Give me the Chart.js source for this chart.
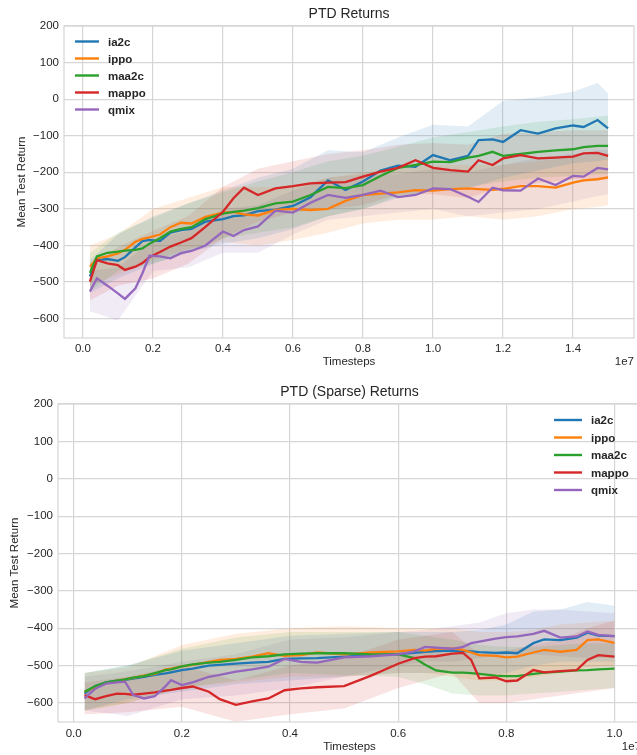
<!DOCTYPE html>
<html>
<head>
<meta charset="utf-8">
<script src="https://cdn.jsdelivr.net/npm/chart.js@4/dist/chart.umd.min.js"></script>
<style>
  html, body { margin: 0; padding: 0; background: #fff; overflow: hidden; }
  body { position: relative; width: 637px; height: 755px; }
  #c1 { position: absolute; left: 0; top: 0; }
  #c2 { position: absolute; left: 0; top: 375px; }
</style>
</head>
<body>
<canvas id="c1" width="637" height="375"></canvas>
<canvas id="c2" width="644" height="380"></canvas>
<script>
// series
const seriesNames = ['ia2c', 'ippo', 'maa2c', 'mappo', 'qmix'];
const seriesColors = ['#1f77b4', '#ff7f0e', '#2ca02c', '#d62728', '#9467bd'];
const bandColors = ['rgba(31,119,180,0.13)', 'rgba(255,127,14,0.13)', 'rgba(44,160,44,0.13)', 'rgba(214,39,40,0.13)', 'rgba(148,103,189,0.13)'];

// tick labels
const yTicks = [-600, -500, -400, -300, -200, -100, 0, 100, 200];
const topXTicks = [0, 0.2, 0.4, 0.6, 0.8, 1.0, 1.2, 1.4];
const botXTicks = [0, 0.2, 0.4, 0.6, 0.8, 1.0];

// ---- PTD Returns (timesteps in 1e7) ----
const topX = [0.02, 0.04, 0.07, 0.10, 0.12, 0.15, 0.17, 0.19, 0.22, 0.25, 0.28, 0.31, 0.35, 0.40, 0.43, 0.46, 0.50, 0.55, 0.60, 0.65, 0.70, 0.75, 0.80, 0.85, 0.90, 0.95, 1.00, 1.05, 1.10, 1.13, 1.17, 1.20, 1.25, 1.30, 1.35, 1.40, 1.43, 1.47, 1.50];
const topIa2c  = [-485, -440, -437, -442, -432, -405, -388, -385, -388, -365, -358, -355, -335, -328, -320, -318, -306, -302, -292, -268, -222, -248, -225, -195, -182, -185, -153, -167, -155, -112, -110, -117, -85, -94, -80, -72, -76, -57, -80];
const topIppo  = [-458, -435, -430, -422, -412, -390, -382, -378, -370, -350, -338, -340, -322, -310, -308, -315, -318, -303, -300, -303, -300, -278, -262, -258, -255, -249, -250, -246, -244, -246, -248, -245, -238, -238, -242, -228, -222, -219, -214];
const topMaa2c = [-475, -430, -420, -417, -414, -412, -408, -395, -380, -362, -355, -350, -328, -313, -308, -305, -298, -285, -280, -262, -240, -243, -235, -210, -188, -180, -171, -172, -160, -155, -144, -155, -150, -144, -140, -137, -131, -128, -128];
const topMappo = [-499, -440, -449, -454, -467, -458, -448, -432, -418, -403, -392, -380, -349, -308, -271, -242, -262, -244, -238, -230, -228, -227, -212, -198, -188, -167, -188, -194, -198, -167, -180, -162, -153, -162, -160, -157, -148, -147, -155];
const topQmix  = [-526, -490, -510, -531, -546, -517, -476, -428, -430, -435, -421, -415, -400, -362, -374, -358, -348, -305, -310, -283, -262, -270, -262, -250, -268, -262, -244, -246, -267, -281, -242, -249, -250, -217, -235, -210, -212, -188, -192];

const topBandX = [0.02, 0.10, 0.20, 0.30, 0.40, 0.50, 0.60, 0.70, 0.80, 0.90, 1.00, 1.10, 1.20, 1.30, 1.40, 1.47, 1.50];
const topIa2cHi  = [-440, -370, -320, -285, -250, -215, -190, -140, -145, -105, -70, -75, -5, 5, 20, 44, 15];
const topIa2cLo  = [-530, -490, -450, -420, -395, -380, -355, -320, -300, -270, -250, -245, -215, -195, -175, -170, -165];
const topIppoHi  = [-400, -370, -300, -270, -240, -240, -240, -215, -200, -190, -180, -180, -180, -170, -160, -150, -150];
const topIppoLo  = [-510, -480, -440, -410, -390, -400, -385, -365, -340, -330, -330, -320, -330, -320, -300, -295, -290];
const topMaa2cHi = [-420, -365, -325, -285, -255, -225, -200, -170, -155, -130, -105, -90, -75, -62, -55, -48, -45];
const topMaa2cLo = [-525, -470, -450, -420, -380, -365, -350, -320, -300, -265, -250, -240, -225, -215, -210, -205, -205];
const topMappoHi = [-450, -405, -360, -320, -240, -190, -170, -150, -140, -125, -120, -125, -95, -90, -85, -85, -85];
const topMappoLo = [-550, -510, -490, -450, -380, -335, -310, -300, -290, -260, -260, -270, -240, -230, -220, -220, -220];
const topQmixHi  = [-470, -460, -385, -360, -300, -290, -250, -215, -205, -205, -190, -200, -180, -160, -150, -140, -140];
const topQmixLo  = [-580, -605, -470, -460, -420, -420, -370, -330, -320, -310, -300, -320, -310, -300, -280, -265, -260];

// ---- PTD (Sparse) Returns ----
const botX = [0.02, 0.04, 0.06, 0.08, 0.095, 0.11, 0.13, 0.15, 0.17, 0.18, 0.20, 0.22, 0.25, 0.27, 0.30, 0.33, 0.36, 0.39, 0.42, 0.45, 0.50, 0.55, 0.60, 0.63, 0.65, 0.67, 0.70, 0.72, 0.735, 0.75, 0.78, 0.80, 0.82, 0.85, 0.87, 0.90, 0.93, 0.95, 0.97, 1.00];
const botIa2c  = [-575, -555, -545, -540, -538, -535, -530, -525, -521, -518, -512, -508, -500, -498, -495, -492, -490, -482, -481, -480, -476, -472, -469, -466, -463, -461, -460, -461, -462, -464, -466, -465, -467, -440, -430, -432, -425, -412, -420, -421];
const botIppo  = [-570, -558, -548, -540, -537, -533, -527, -522, -510, -508, -502, -498, -490, -485, -482, -476, -467, -474, -472, -465, -470, -465, -462, -458, -460, -455, -454, -458, -465, -472, -474, -478, -476, -465, -458, -463, -458, -432, -430, -439];
const botMaa2c = [-570, -555, -545, -540, -537, -532, -528, -520, -512, -510, -502, -497, -492, -490, -485, -478, -475, -470, -468, -467, -467, -470, -470, -480, -498, -513, -519, -519, -520, -522, -527, -528, -528, -522, -519, -516, -513, -512, -510, -508];
const botMappo = [-579, -590, -582, -575, -576, -578, -575, -572, -567, -565, -560, -556, -570, -590, -605, -596, -588, -566, -561, -558, -555, -527, -495, -480, -476, -475, -468, -466, -485, -534, -532, -542, -540, -512, -518, -515, -512, -485, -472, -476];
const botQmix  = [-588, -562, -548, -545, -543, -579, -588, -582, -555, -539, -552, -545, -530, -525, -516, -510, -503, -482, -490, -492, -478, -475, -470, -462, -450, -452, -455, -450, -440, -436, -428, -424, -422, -415, -407, -425, -422, -409, -418, -421];

const botBandX = [0.02, 0.10, 0.20, 0.30, 0.40, 0.50, 0.60, 0.65, 0.70, 0.75, 0.80, 0.85, 0.90, 0.95, 1.00];
const botIa2cHi  = [-520, -500, -460, -440, -420, -415, -410, -410, -410, -405, -390, -355, -350, -330, -340];
const botIa2cLo  = [-620, -590, -570, -550, -540, -530, -520, -520, -520, -525, -520, -500, -490, -490, -490];
const botIppoHi  = [-520, -505, -445, -415, -400, -395, -400, -400, -400, -410, -410, -405, -390, -385, -380];
const botIppoLo  = [-620, -600, -560, -545, -530, -530, -520, -520, -530, -540, -540, -530, -520, -505, -500];
const botMaa2cHi = [-520, -500, -455, -425, -410, -410, -410, -420, -430, -445, -450, -450, -445, -440, -440];
const botMaa2cLo = [-620, -600, -560, -540, -520, -525, -530, -550, -575, -580, -580, -575, -570, -565, -560];
const botMappoHi = [-545, -530, -500, -540, -500, -480, -430, -420, -410, -470, -460, -445, -430, -400, -380];
const botMappoLo = [-630, -625, -610, -650, -630, -615, -560, -540, -520, -600, -600, -590, -580, -570, -560];
const botQmixHi  = [-530, -515, -490, -470, -430, -425, -410, -405, -395, -385, -360, -350, -350, -355, -360];
const botQmixLo  = [-620, -635, -590, -580, -560, -530, -500, -490, -490, -480, -470, -470, -475, -480, -480];

const FONT = '"Liberation Sans", Arial, sans-serif';
const TEXT = '#262626';
const GRID = '#d6d6d6';

function pts(xs, ys) {
  return xs.map((x, i) => ({ x: x, y: ys[i] }));
}

function fmtY(v) {
  return v < 0 ? '\u2212' + Math.abs(v) : String(v);
}

// title, frame, 1e7 offset and legend drawn inside the plot
const extras = {
  id: 'extras',
  afterDraw(chart, args, o) {
    const ctx = chart.ctx;
    const a = chart.chartArea;
    ctx.save();
    ctx.strokeStyle = GRID;
    ctx.lineWidth = 1.2;
    ctx.strokeRect(a.left, a.top, a.right - a.left, a.bottom - a.top);

    ctx.fillStyle = TEXT;
    ctx.font = '14px ' + FONT;
    ctx.textAlign = 'center';
    ctx.textBaseline = 'middle';
    ctx.fillText(o.title, (a.left + a.right) / 2, o.titleY);

    ctx.font = '11.5px ' + FONT;
    ctx.textAlign = 'right';
    ctx.fillText('1e7', a.right, o.offsetY);

    ctx.font = 'bold 11.5px ' + FONT;
    ctx.textAlign = 'left';
    seriesNames.forEach((name, i) => {
      const y = o.legY + i * o.legDy;
      ctx.strokeStyle = seriesColors[i];
      ctx.lineWidth = 2.4;
      ctx.beginPath();
      ctx.moveTo(o.legX, y);
      ctx.lineTo(o.legX + o.legLen, y);
      ctx.stroke();
      ctx.fillStyle = TEXT;
      ctx.fillText(name, o.legX + o.legLen + 9, y + 1);
    });
    ctx.restore();
  }
};

function makeChart(id, lines, bandX, bands, xTicks, L) {
  const datasets = [];
  bands.forEach((b, i) => {
    datasets.push({ data: pts(bandX, b[0]), borderWidth: 0, pointRadius: 0, fill: false, order: 20 });
    datasets.push({ data: pts(bandX, b[1]), borderWidth: 0, pointRadius: 0, fill: '-1', backgroundColor: bandColors[i], order: 20 });
  });
  lines.forEach((ys, i) => {
    datasets.push({
      label: seriesNames[i],
      data: pts(L.x, ys),
      borderColor: seriesColors[i],
      borderWidth: 2.3,
      pointRadius: 0,
      tension: 0,
      fill: false,
      order: 5 - i
    });
  });

  return new Chart(document.getElementById(id), {
    type: 'line',
    data: { datasets },
    options: {
      responsive: false,
      animation: false,
      devicePixelRatio: 1,
      layout: { padding: { top: L.top, right: L.right, left: 0, bottom: 0 } },
      plugins: {
        legend: { display: false },
        tooltip: { enabled: false },
        extras: L.extras
      },
      scales: {
        x: {
          type: 'linear',
          min: L.xMin,
          max: L.xMax,
          afterBuildTicks: s => { s.ticks = xTicks.map(v => ({ value: v })); },
          afterFit: s => { s.height = L.xH; },
          grid: { color: GRID, lineWidth: 1.2, drawTicks: false },
          border: { display: false },
          ticks: { padding: L.xPad, color: TEXT, font: { family: FONT, size: 11.5 }, maxRotation: 0, autoSkip: false, callback: v => v.toFixed(1) },
          title: { display: true, text: 'Timesteps', color: TEXT, font: { family: FONT, size: 11.5 }, padding: { top: 0, bottom: L.xTitlePad } }
        },
        y: {
          type: 'linear',
          min: L.yMin,
          max: 200,
          afterBuildTicks: s => { s.ticks = yTicks.map(v => ({ value: v })); },
          afterFit: s => { s.width = L.left; },
          grid: { color: GRID, lineWidth: 1.2, drawTicks: false },
          border: { display: false },
          ticks: { padding: 5, color: TEXT, font: { family: FONT, size: 11.5 }, callback: v => fmtY(v) },
          title: { display: true, text: 'Mean Test Return', color: TEXT, font: { family: FONT, size: 11.5 }, padding: { top: L.yTitlePad, bottom: 0 } }
        }
      }
    },
    plugins: [extras]
  });
}

makeChart('c1',
  [topIa2c, topIppo, topMaa2c, topMappo, topQmix],
  topBandX,
  [[topIa2cLo, topIa2cHi], [topIppoLo, topIppoHi], [topMaa2cLo, topMaa2cHi], [topMappoLo, topMappoHi], [topQmixLo, topQmixHi]],
  topXTicks,
  {
    x: topX, xMin: -0.054, xMax: 1.574, yMin: -653,
    top: 26, right: 3, left: 64, xH: 37, xPad: 4, xTitlePad: 6, yTitlePad: 15,
    extras: { title: 'PTD Returns', titleY: 14, offsetY: 362, legX: 75, legY: 41.5, legDy: 17, legLen: 24 }
  });

makeChart('c2',
  [botIa2c, botIppo, botMaa2c, botMappo, botQmix],
  botBandX,
  [[botIa2cLo, botIa2cHi], [botIppoLo, botIppoHi], [botMaa2cLo, botMaa2cHi], [botMappoLo, botMappoHi], [botQmixLo, botQmixHi]],
  botXTicks,
  {
    x: botX, xMin: -0.029, xMax: 1.049, yMin: -651,
    top: 29, right: 3, left: 58, xH: 33, xPad: 5, xTitlePad: 1.5, yTitlePad: 8,
    extras: { title: 'PTD (Sparse) Returns', titleY: 17, offsetY: 372, legX: 554, legY: 45, legDy: 17.5, legLen: 28 }
  });
</script>
</body>
</html>
